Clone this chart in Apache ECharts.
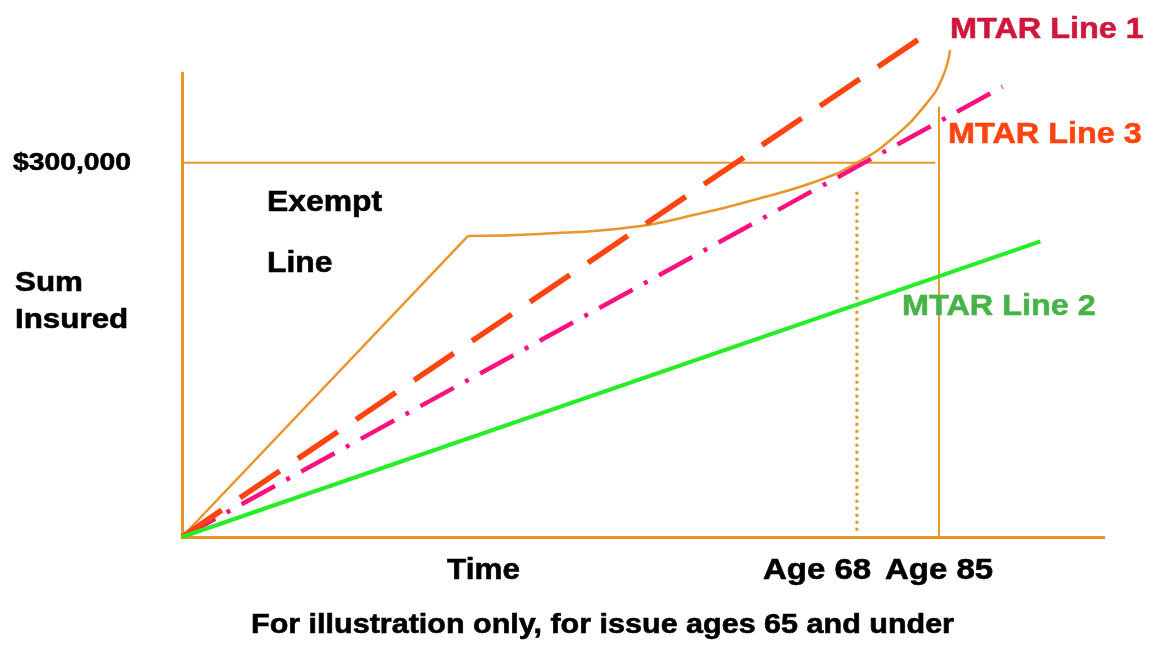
<!DOCTYPE html>
<html>
<head>
<meta charset="utf-8">
<script src="https://cdn.jsdelivr.net/npm/echarts@6/dist/echarts.min.js"></script>
<style>
  html, body { margin: 0; padding: 0; background: #ffffff; }
  #chart { width: 1157px; height: 648px; }
</style>
</head>
<body>
<div id="chart"></div>
<script>
// Horizontal: policy time (0..100, schematic units). Vertical: sum insured in $ thousands.
const exemptRise  = [[0, 0], [31, 241.3]];
const exemptCurve = [[31, 241.3], [38.8, 242.9], [48.9, 248.5], [56.2, 259.3], [61.6, 269.4],
                     [68.9, 285.4], [73.2, 300], [77.1, 319.9], [80.8, 348], [82.5, 368.8], [83.3, 390.4]];
const mtarLine1 = [[0, 0], [81.3, 406]];
const mtarLine3 = [[0, 0], [89.0, 361]];
const mtarLine2 = [[0, 0], [93.1, 237]];
const capLine   = [[0, 300], [81.7, 300]];   // $300,000 level
const age68Line = [[73.2, 5], [73.2, 278]];
const age85Line = [[82.1, 0], [82.1, 345]];

const xTickLabels = ['Time', 'Age 68', 'Age 85'];
const yTickLabels = ['$300,000'];
const seriesNames = ['MTAR Line 1', 'MTAR Line 3', 'MTAR Line 2'];
const exemptLabel = ['Exempt', 'Line'];
const yTitle = ['Sum', 'Insured'];
const footNote = 'For illustration only, for issue ages 65 and under';

const AXIS = '#e8952c';
const FONT = '"Liberation Sans", Arial, sans-serif';

function label(text, x, y, size, color, sx) {
  return {
    type: 'text', x: x, y: y, scaleX: sx, silent: true, z: 10,
    style: { text: text, font: 'bold ' + size + 'px ' + FONT, fill: color,
             stroke: color, lineWidth: 0.6,
             align: 'left', verticalAlign: 'middle' }
  };
}

function line(name, data, color, width, dash, z, smooth) {
  return {
    name: name, type: 'line', data: data, symbol: 'none', clip: false,
    smooth: smooth || false, z: z, silent: true,
    lineStyle: { color: color, width: width, type: dash || 'solid', cap: 'butt' }
  };
}

const chart = echarts.init(document.getElementById('chart'), null, { renderer: 'canvas' });
chart.setOption({
  animation: false,
  backgroundColor: '#ffffff',
  grid: { left: 182, right: 53, top: 73, bottom: 111 },
  xAxis: {
    type: 'value', min: 0, max: 100,
    axisLine: { show: true, lineStyle: { color: AXIS, width: 3 } },
    axisTick: { show: false }, axisLabel: { show: false }, splitLine: { show: false }
  },
  yAxis: {
    type: 'value', min: 0, max: 372,
    axisLine: { show: true, lineStyle: { color: AXIS, width: 3 } },
    axisTick: { show: false }, axisLabel: { show: false }, splitLine: { show: false }
  },
  series: [
    line('cap', capLine, AXIS, 2, 'solid', 2),
    line('age85', age85Line, AXIS, 2, 'solid', 2),
    line('age68', age68Line, AXIS, 3, [3, 4], 2),
    line('Exempt Line', exemptRise, AXIS, 2.5, 'solid', 3),
    line('Exempt Line curve', exemptCurve, AXIS, 2.5, 'solid', 3, 0.5),
    line(seriesNames[1], mtarLine3, '#ff1080', 4.5, [38, 13, 4, 13], 4),
    line(seriesNames[0], mtarLine1, '#ff4411', 5.5, [48, 22], 5),
    line(seriesNames[2], mtarLine2, '#26ee26', 4, 'solid', 6)
  ],
  graphic: [
    label(seriesNames[0], 950, 30, 30, '#d1163c', 1.08),
    label(seriesNames[1], 948, 134.5, 30, '#ff4411', 1.08),
    label(seriesNames[2], 902, 307, 30, '#47b347', 1.08),
    label(yTickLabels[0], 13, 163.5, 24, '#000000', 1.18),
    label(exemptLabel[0], 267, 203, 29, '#000000', 1.1),
    label(exemptLabel[1], 267, 264, 29, '#000000', 1.1),
    label(yTitle[0], 15, 283, 28, '#000000', 1.12),
    label(yTitle[1], 15, 320, 28, '#000000', 1.12),
    label(xTickLabels[0], 447, 571, 30, '#000000', 1.05),
    label(xTickLabels[1], 763, 571, 30, '#000000', 1.1),
    label(xTickLabels[2], 885, 571, 30, '#000000', 1.1),
    label(footNote, 251, 626, 27, '#000000', 1.13)
  ]
});
</script>
</body>
</html>
